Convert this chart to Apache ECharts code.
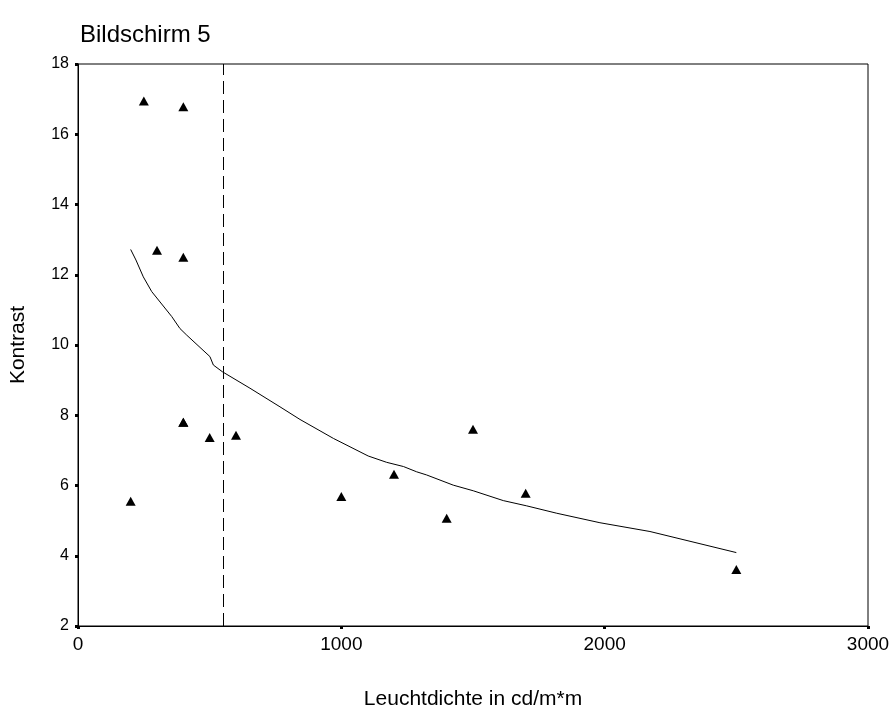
<!DOCTYPE html>
<html>
<head>
<meta charset="utf-8">
<script src="https://cdn.jsdelivr.net/npm/echarts@6/dist/echarts.min.js"></script>
<style>html,body{margin:0;padding:0;background:#fff}#c{width:893px;height:722px}</style>
</head>
<body>
<div id="c"></div>
<script>
const titleText = "Bildschirm 5";
const xName = "Leuchtdichte in cd/m*m";
const yName = "Kontrast";
const xTicks = [0, 1000, 2000, 3000];
const yTicks = [2, 4, 6, 8, 10, 12, 14, 16, 18];
const pointX = [200, 250, 300, 400, 400, 400, 400, 500, 600, 1000, 1200, 1400, 1500, 1700, 2500];
const pointY = [5.55, 16.95, 12.7, 16.78, 12.5, 7.8, 7.8, 7.37, 7.43, 5.69, 6.32, 5.07, 7.6, 5.78, 3.61];
const curveX = [200, 220, 248, 280, 356, 387, 413, 501, 514, 548, 653, 767, 843, 970, 1102, 1172, 1236, 1286, 1324, 1425, 1501, 1615, 1704, 1818, 1982, 2172, 2500];
const curveY = [12.72, 12.42, 11.94, 11.52, 10.81, 10.47, 10.28, 9.67, 9.43, 9.24, 8.77, 8.24, 7.88, 7.34, 6.84, 6.66, 6.54, 6.39, 6.30, 6.01, 5.85, 5.57, 5.42, 5.21, 4.94, 4.69, 4.09];
const refLineX = 550;

const font = "'Liberation Sans', Arial, Helvetica, sans-serif";
const chart = echarts.init(document.getElementById('c'), null, {renderer: 'canvas'});
chart.setOption({
  animation: false,
  backgroundColor: '#fff',
  title: {
    text: titleText, left: 75, top: 18,
    textStyle: {fontFamily: font, fontSize: 24, fontWeight: 'normal', color: '#000'}
  },
  grid: {left: 78, top: 64, right: 25, bottom: 96, show: true, borderColor: '#000', borderWidth: 1},
  xAxis: {
    type: 'value', min: xTicks[0], max: xTicks[xTicks.length - 1], interval: 1000,
    name: xName, nameLocation: 'middle', nameGap: 63,
    nameTextStyle: {fontFamily: font, fontSize: 21, color: '#000'},
    axisLine: {show: true, onZero: false, lineStyle: {color: '#000', width: 1}},
    axisTick: {show: true, length: 3, lineStyle: {color: '#000', width: 3}},
    axisLabel: {fontFamily: font, fontSize: 19, color: '#000', margin: 9, formatter: v => String(v)},
    splitLine: {show: false}
  },
  yAxis: {
    type: 'value', min: yTicks[0], max: yTicks[yTicks.length - 1], interval: 2,
    name: yName, nameLocation: 'middle', nameGap: 49, nameRotate: 90,
    nameTextStyle: {fontFamily: font, fontSize: 21, color: '#000'},
    axisLine: {show: true, onZero: false, lineStyle: {color: '#000', width: 1}},
    axisTick: {show: true, length: 3, lineStyle: {color: '#000', width: 3}},
    axisLabel: {fontFamily: font, fontSize: 16, color: '#000', margin: 9, formatter: v => String(v)},
    splitLine: {show: false}
  },
  series: [
    {
      type: 'line', data: curveX.map((x, i) => [x, curveY[i]]),
      showSymbol: false, symbol: 'none', smooth: false,
      lineStyle: {color: '#000', width: 1},
      markLine: {
        silent: true, symbol: 'none', label: {show: false},
        lineStyle: {color: '#000', width: 1, type: [13, 6]},
        data: [{xAxis: refLineX}]
      }
    },
    {
      type: 'scatter', data: pointX.map((x, i) => [x, pointY[i]]),
      symbol: 'triangle', symbolSize: [10, 9],
      itemStyle: {color: '#000', opacity: 1}
    }
  ]
});
</script>
</body>
</html>
